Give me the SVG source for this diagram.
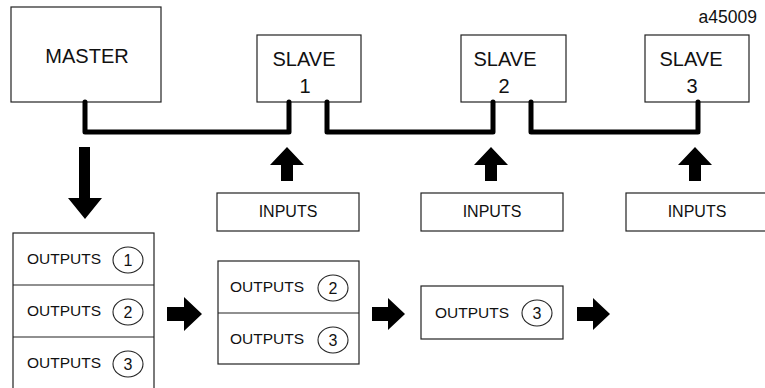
<svg xmlns="http://www.w3.org/2000/svg" width="765" height="388" viewBox="0 0 765 388">
<style>
.box{fill:#fff;stroke:#222;stroke-width:1.2}
.t{font-family:"Liberation Sans",Arial,sans-serif;fill:#111}
.big{font-size:20px;text-anchor:middle}
.mid{font-size:15.5px}
.c{font-size:16px;text-anchor:middle}
.ring{fill:none;stroke:#222;stroke-width:1.1}
.bus{fill:none;stroke:#000;stroke-width:5;stroke-linejoin:round;stroke-linecap:round}
.arr{fill:#000}
</style>
<text class="t" x="757" y="23" font-size="17.5" text-anchor="end">a45009</text>
<g id="master">
<rect class="box" x="11" y="7" width="150" height="95"/>
<text class="t big" x="87" y="63" font-size="21">MASTER</text>
</g>
<g id="slave1">
<rect class="box" x="257" y="35" width="104" height="67"/>
<text class="t big" x="304" y="66">SLAVE</text>
<text class="t big" x="305" y="93">1</text>
</g>
<g id="slave2">
<rect class="box" x="461" y="35" width="105" height="67"/>
<text class="t big" x="505" y="66">SLAVE</text>
<text class="t big" x="504" y="93">2</text>
</g>
<g id="slave3">
<rect class="box" x="645" y="35" width="104" height="67"/>
<text class="t big" x="691" y="66">SLAVE</text>
<text class="t big" x="692" y="93">3</text>
</g>
<g id="inputs1">
<rect class="box" x="217" y="193" width="142" height="38"/>
<text class="t c" x="288" y="217">INPUTS</text>
</g>
<g id="inputs2">
<rect class="box" x="421" y="193" width="142" height="38"/>
<text class="t c" x="492" y="217">INPUTS</text>
</g>
<g id="inputs3">
<rect class="box" x="626" y="193" width="143" height="38"/>
<text class="t c" x="697" y="217">INPUTS</text>
</g>
<g id="outputs-stack1">
<rect class="box" x="13" y="233" width="141" height="160"/>
<line class="box" x1="13" y1="285" x2="154" y2="285"/>
<line class="box" x1="13" y1="337" x2="154" y2="337"/>
<text class="t mid" x="27" y="264">OUTPUTS</text>
<ellipse class="ring" cx="128" cy="260" rx="15" ry="13"/>
<text class="t c" x="128" y="266">1</text>
<text class="t mid" x="27" y="316">OUTPUTS</text>
<ellipse class="ring" cx="128" cy="312" rx="15" ry="13"/>
<text class="t c" x="128" y="318">2</text>
<text class="t mid" x="27" y="368">OUTPUTS</text>
<ellipse class="ring" cx="128" cy="364" rx="15" ry="13"/>
<text class="t c" x="128" y="370">3</text>
</g>
<g id="outputs-stack2">
<rect class="box" x="218" y="261" width="141" height="103"/>
<line class="box" x1="218" y1="313" x2="359" y2="313"/>
<text class="t mid" x="230" y="292">OUTPUTS</text>
<ellipse class="ring" cx="333" cy="288" rx="15" ry="13"/>
<text class="t c" x="333" y="294">2</text>
<text class="t mid" x="230" y="344">OUTPUTS</text>
<ellipse class="ring" cx="333" cy="340" rx="15" ry="13"/>
<text class="t c" x="333" y="346">3</text>
</g>
<g id="outputs-stack3">
<rect class="box" x="421" y="286" width="142" height="53"/>
<text class="t mid" x="435" y="318">OUTPUTS</text>
<ellipse class="ring" cx="537" cy="313" rx="15" ry="13"/>
<text class="t c" x="537" y="319">3</text>
</g>
<g id="connectors">
<path class="bus" d="M85 102V132H289V102"/>
<path class="bus" d="M327 102V132H493V102"/>
<path class="bus" d="M531 102V132H698V102"/>
<path class="arr" d="M79 147H90V198H102L85 219L68 198H79Z"/>
<path class="arr" d="M281 181V165H270L287 147L304 165H293V181Z"/>
<path class="arr" d="M485 181V165H474L491 147L508 165H497V181Z"/>
<path class="arr" d="M689 181V165H678L695 147L712 165H701V181Z"/>
<path class="arr" d="M167 307H184V297L202 314L184 331V321H167Z"/>
<path class="arr" d="M372 307H388V298L405 314L388 330V321H372Z"/>
<path class="arr" d="M577 307H593V298L610 314L593 330V321H577Z"/>
</g>
</svg>
